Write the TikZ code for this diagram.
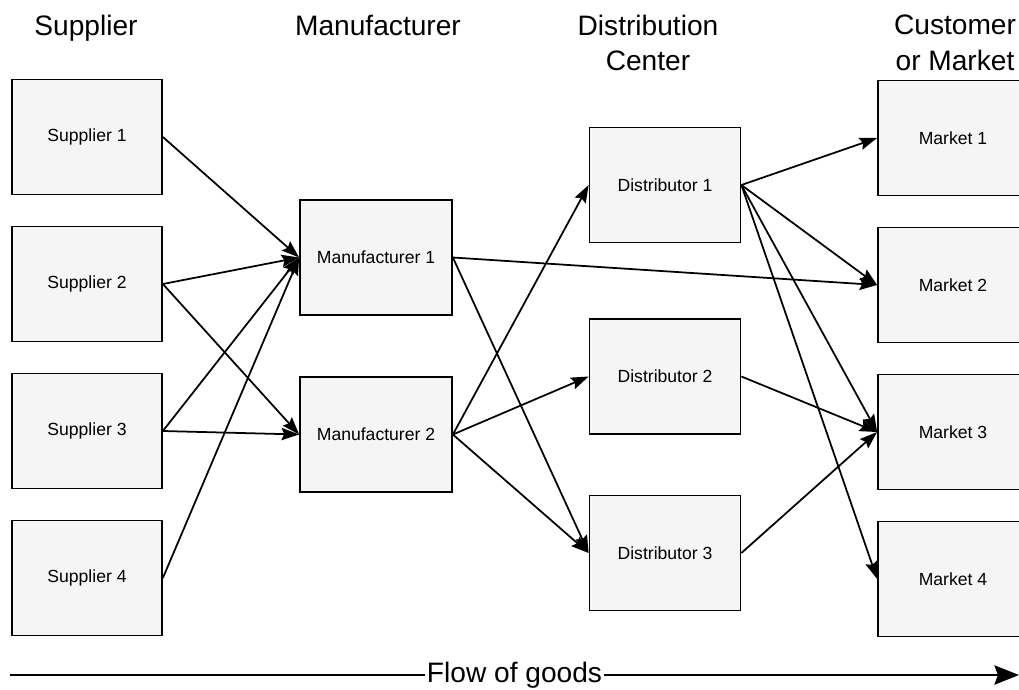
\documentclass[tikz,border=0pt]{standalone}
\usepackage{fontspec}
\setmainfont{Liberation Sans}
\usetikzlibrary{arrows.meta,positioning}

\begin{document}
\begin{tikzpicture}[
        box/.style={draw,line width=1pt,fill=gray!8,minimum width=3cm,minimum height=2.3cm,font=\fontsize{10}{12}\selectfont},
        head/.style={anchor=north,inner sep=0pt,align=center,font=\fontsize{16}{20}\selectfont},
        flow/.style={->,>={Stealth[length=10pt,width=7pt,inset=1.5pt]},line width=1pt}
    ]
    \useasboundingbox (0,0) rectangle (20.38,-13.8);

    % column titles
    \node[head] (hS) at (1.72,-0.30) {Supplier};
    \node[head] (hM) at (7.56,-0.30) {Manufacturer};
    \node[head] (hD) at (12.96,-0.30) {Distribution\\Center};
    \node[head] (hK) at (19.10,-0.30) {Customer\\or Market};

    % boxes
    \foreach \n in {1,...,4}
        \node[box] (S\n) at (1.74,{-2.74-2.94*(\n-1)}) {Supplier \n};
    \foreach \y [count=\n] in {-5.15,-8.69}
        \node[box,minimum width=3.04cm] (M\n) at (7.52,\y) {Manufacturer \n};
    \foreach \y [count=\n] in {-3.70,-7.53,-11.06}
        \node[box,minimum width=3.02cm] (D\n) at (13.30,\y) {Distributor \n};
    \foreach \n in {1,...,4}
        \node[box] (K\n) at (19.06,{-2.76-2.94*(\n-1)}) {Market \n};

    \path[flow]
        (S1.east) edge (M1.west)
        (S2.east) edge (M1.west)
        (S2.east) edge (M2.west)
        (S3.east) edge (M1.west)
        (S3.east) edge (M2.west)
        (S4.east) edge (M1.west)
        (M1.east) edge (K2.west)
        (M1.east) edge (D3.west)
        (M2.east) edge (D1.west)
        (M2.east) edge (D2.west)
        (M2.east) edge (D3.west)
        (D1.east) edge (K1.west)
        (D1.east) edge (K2.west)
        (D1.east) edge (K3.west)
        (D1.east) edge (K4.west)
        (D2.east) edge (K3.west)
        (D3.east) edge (K3.west);

    % flow of goods
    \coordinate (fL) at (0.2,-13.5);
    \coordinate (fR) at (20.38,-13.5);
    \draw[line width=1.2pt,-{Stealth[length=14pt,width=11pt,inset=2pt]}] (fL) -- node[fill=white,inner sep=1pt,font=\fontsize{16}{20}\selectfont] (fT) {Flow of goods} (fR);
\end{tikzpicture}
\end{document}
